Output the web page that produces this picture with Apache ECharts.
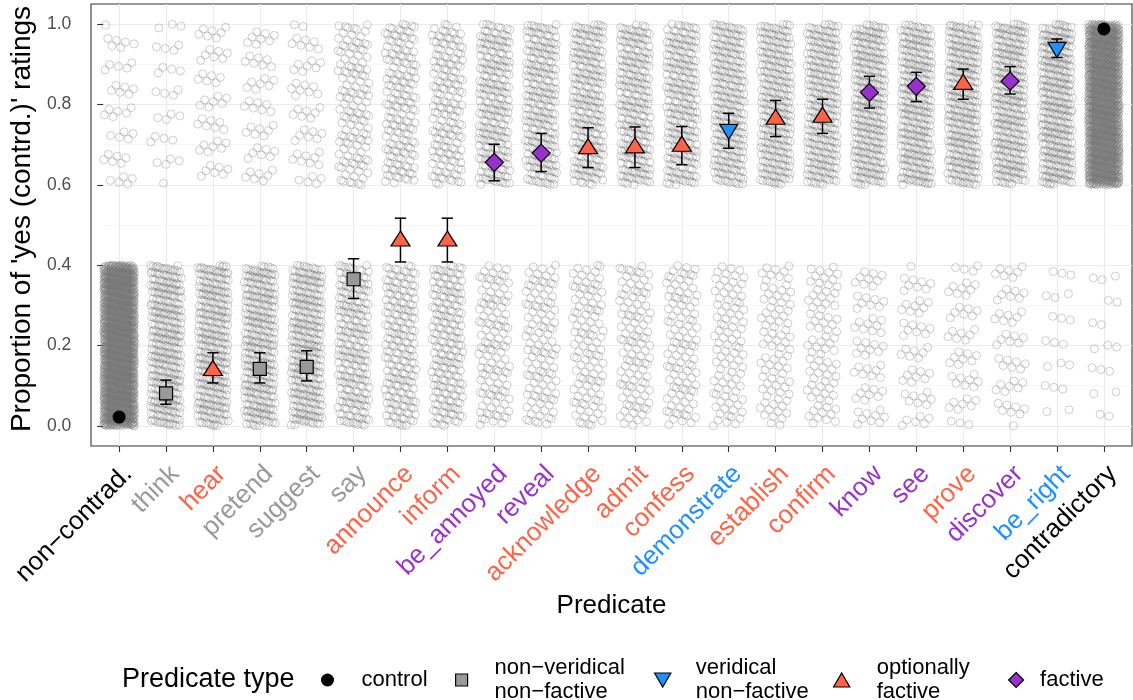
<!DOCTYPE html>
<html>
<head>
<meta charset="utf-8">
<script src="https://cdn.jsdelivr.net/npm/echarts@6/dist/echarts.min.js"></script>
<style>
html, body { margin: 0; padding: 0; background: #ffffff; }
#chart { width: 1133px; height: 700px; }
</style>
</head>
<body>
<div id="chart"></div>
<script>
// ---------------- data ----------------
const predicates = ['non−contrad.', 'think', 'hear', 'pretend', 'suggest', 'say', 'announce', 'inform',
  'be_annoyed', 'reveal', 'acknowledge', 'admit', 'confess', 'demonstrate', 'establish', 'confirm',
  'know', 'see', 'prove', 'discover', 'be_right', 'contradictory'];
const predicateType = ['control', 'nvnf', 'of', 'nvnf', 'nvnf', 'nvnf', 'of', 'of',
  'factive', 'factive', 'of', 'of', 'of', 'vnf', 'of', 'of',
  'factive', 'factive', 'of', 'factive', 'vnf', 'control'];
// mean proportion of 'yes' and its 95% interval
const meanProportion = [0.022, 0.081, 0.138, 0.142, 0.147, 0.365, 0.460, 0.460,
  0.656, 0.679, 0.690, 0.692, 0.696, 0.738, 0.763, 0.768,
  0.830, 0.845, 0.850, 0.858, 0.942, 0.988];
const ciLower = [0.016, 0.054, 0.107, 0.107, 0.112, 0.317, 0.408, 0.408,
  0.610, 0.633, 0.643, 0.643, 0.650, 0.691, 0.720, 0.728,
  0.791, 0.807, 0.813, 0.826, 0.917, 0.984];
const ciUpper = [0.029, 0.114, 0.182, 0.182, 0.187, 0.416, 0.517, 0.517,
  0.701, 0.728, 0.742, 0.744, 0.745, 0.778, 0.810, 0.813,
  0.870, 0.880, 0.888, 0.894, 0.963, 0.992];
// number of individual 'yes' (upper cloud) and 'no' (lower cloud) responses
const yesCount = [40, 28, 48, 50, 51, 128, 161, 161,
  230, 238, 242, 242, 244, 258, 267, 269,
  290, 296, 298, 300, 330, 1483];
const noCount = [1760, 322, 302, 300, 299, 222, 189, 189,
  120, 112, 108, 108, 106, 92, 83, 81,
  60, 54, 52, 50, 20, 17];
const typeOrder = ['control', 'nvnf', 'vnf', 'of', 'factive'];
const typeLabels = ['control', 'non−veridical\nnon−factive', 'veridical\nnon−factive', 'optionally\nfactive', 'factive'];

// ---------------- styles ----------------
const FONT = '"Liberation Sans", Arial, Helvetica, sans-serif';
const typeStyle = {
  control: { symbol: 'circle', size: 13, fill: '#000000', label: '#000000', border: 0, offset: [0, 0], rotate: 0,
             icon: 'circle', iconH: 13 },
  nvnf:    { symbol: 'rect', size: [13, 13], fill: '#999999', label: '#999999', border: 1.2, offset: [0, 0], rotate: 0,
             icon: 'path://M0,0H10V10H0Z', iconH: 12 },
  vnf:     { symbol: 'triangle', size: [18, 15], fill: '#1E90FF', label: '#1E90FF', border: 1.2, offset: [0, 2.5], rotate: 180,
             icon: 'path://M0,0L11,0L5.5,9.5Z', iconH: 14 },
  of:      { symbol: 'triangle', size: [19, 15], fill: '#FF6347', label: '#FF6347', border: 1.2, offset: [0, -2.5], rotate: 0,
             icon: 'path://M5.5,0L11,9.5L0,9.5Z', iconH: 14 },
  factive: { symbol: 'diamond', size: [18, 18], fill: '#9932CC', label: '#9932CC', border: 1.2, offset: [0, 0], rotate: 0,
             icon: 'path://M5,0L10,5L5,10L0,5Z', iconH: 15 }
};
// legend placement: [left, itemWidth]
const legendPlace = { control: [321, 58], nvnf: [455, 56], vnf: [654, 56], of: [833, 60], factive: [1008, 38] };

// ---------------- geometry of the panel ----------------
const PANEL = { left: 91, right: 1, top: 4, bottom: 254 };
const X_MIN = -0.6, X_MAX = predicates.length - 1 + 0.6;
const panelW = 1133 - PANEL.left - PANEL.right;
const pad = 0.6 * panelW / (X_MAX - X_MIN);
const panelH = 700 - PANEL.top - PANEL.bottom;
const pxPerUnitY = panelH / 1.1;

// deterministic jitter layout (geom_jitter look), position only
const A1 = 0.7548776662466927, A2 = 0.5698402909980532;
function jitterPos(n) { return [(0.5 + n * A1) % 1, (0.5 + n * A2) % 1]; }

const cloud = [];
predicates.forEach((p, c) => {
  for (let i = 0; i < noCount[c]; i++) {
    const j = jitterPos(c * 2000 + i + 1);
    cloud.push([c + (j[0] - 0.5) * 0.66, j[1] * 0.4]);
  }
  for (let i = 0; i < yesCount[c]; i++) {
    const j = jitterPos(c * 2000 + 1000 + i + 1);
    cloud.push([c + (j[0] - 0.5) * 0.66, 0.6 + j[1] * 0.4]);
  }
});

const errData = predicates.map((p, c) => [c, ciLower[c], ciUpper[c]]);

const meanSeries = typeOrder.map((t, k) => {
  const st = typeStyle[t];
  const data = [];
  predicates.forEach((p, c) => { if (predicateType[c] === t) data.push([c, meanProportion[c]]); });
  return {
    name: typeLabels[k], type: 'scatter', xAxisIndex: 0, yAxisIndex: 0, z: 6,
    symbol: st.symbol, symbolSize: st.size, symbolOffset: st.offset, symbolRotate: st.rotate,
    itemStyle: { color: st.fill, borderColor: '#000000', borderWidth: st.border, opacity: 1 },
    data: data, silent: true
  };
});

const legends = typeOrder.map((t, k) => {
  const st = typeStyle[t];
  const two = typeLabels[k].indexOf('\n') >= 0;
  const lh = 24;
  const textH = two ? 2 * lh : lh;
  return {
    show: true, selectedMode: false, orient: 'horizontal', padding: 0,
    left: legendPlace[t][0], top: 680 - textH / 2,
    itemWidth: legendPlace[t][1], itemHeight: st.iconH,
    data: [{ name: typeLabels[k], icon: st.icon }],
    itemStyle: { color: st.fill, borderColor: '#000000', borderWidth: st.border },
    textStyle: { fontFamily: FONT, fontSize: 22, color: '#000000', lineHeight: lh }
  };
});

const option = {
  animation: false,
  backgroundColor: '#ffffff',
  title: {
    text: 'Predicate type', left: 122, top: 666, padding: 0,
    textStyle: { fontFamily: FONT, fontSize: 27, fontWeight: 'normal', color: '#000000' }
  },
  legend: legends,
  grid: [
    // data panel with border
    { left: PANEL.left, right: PANEL.right, top: PANEL.top, bottom: PANEL.bottom, show: true,
      borderColor: '#333333', borderWidth: 1.1, backgroundColor: 'transparent', containLabel: false },
    // horizontal gridlines + y labels: 0..1 region
    { left: PANEL.left, right: PANEL.right, top: PANEL.top + 0.05 * pxPerUnitY,
      bottom: PANEL.bottom + 0.05 * pxPerUnitY, containLabel: false },
    // x labels
    { left: PANEL.left + pad + 9, right: PANEL.right + pad - 9, top: PANEL.top, bottom: PANEL.bottom, containLabel: false },
    // x ticks + vertical gridlines
    { left: PANEL.left + pad, right: PANEL.right + pad, top: PANEL.top, bottom: PANEL.bottom, containLabel: false }
  ],
  xAxis: [
    { gridIndex: 0, type: 'value', min: X_MIN, max: X_MAX, show: false },
    { gridIndex: 1, type: 'value', min: 0, max: 1, show: false },
    { gridIndex: 2, type: 'category', data: predicates, boundaryGap: false,
      axisLine: { show: false }, axisTick: { show: false }, splitLine: { show: false },
      axisLabel: { show: true, interval: 0, rotate: 45, margin: 24, fontFamily: FONT, fontSize: 26,
        color: (v, i) => typeStyle[predicateType[i !== undefined ? i : predicates.indexOf(v)]].label } },
    { gridIndex: 3, type: 'category', data: predicates, boundaryGap: false,
      axisLine: { show: false }, axisLabel: { show: false },
      axisTick: { show: true, interval: 0, length: 6, lineStyle: { color: '#333333', width: 1.1 } },
      splitLine: { show: true, interval: 0, lineStyle: { color: '#ebebeb', width: 1.1 } },
      name: 'Predicate', nameLocation: 'middle', nameGap: 147,
      nameTextStyle: { fontFamily: FONT, fontSize: 26, color: '#000000' } }
  ],
  yAxis: [
    { gridIndex: 0, type: 'value', min: -0.05, max: 1.05, show: false },
    { gridIndex: 1, type: 'value', min: 0, max: 1, interval: 0.2,
      axisLine: { show: false },
      axisTick: { show: true, length: 6, lineStyle: { color: '#333333', width: 1.1 } },
      axisLabel: { show: true, margin: 32, fontFamily: FONT, fontSize: 17.5, color: '#4d4d4d',
        formatter: v => Number(v).toFixed(1) },
      splitLine: { show: true, lineStyle: { color: '#ebebeb', width: 1.1 } },
      minorTick: { show: false, splitNumber: 2 },
      minorSplitLine: { show: true, lineStyle: { color: '#f0f0f0', width: 0.6 } },
      name: "Proportion of 'yes (contrd.)' ratings", nameLocation: 'middle', nameGap: 49, nameRotate: 90,
      nameTextStyle: { fontFamily: FONT, fontSize: 28, color: '#000000', padding: [0, 0, 0, 12] } },
    { gridIndex: 2, type: 'value', show: false },
    { gridIndex: 3, type: 'value', show: false }
  ],
  series: [
    { name: 'responses', type: 'scatter', xAxisIndex: 0, yAxisIndex: 0, z: 2, silent: true,
      symbol: 'circle', symbolSize: 8, large: false, progressive: 0, progressiveThreshold: 1e7,
      itemStyle: { color: 'rgba(0,0,0,0)', borderColor: 'rgba(120,120,120,0.45)', borderWidth: 1 },
      data: cloud },
    { name: 'ci', type: 'custom', xAxisIndex: 0, yAxisIndex: 0, z: 5, silent: true,
      encode: { x: 0, y: [1, 2] },
      renderItem: function (params, api) {
        const x = api.value(0);
        const top = api.coord([x, api.value(2)]);
        const bot = api.coord([x, api.value(1)]);
        const hw = api.size([0.12, 0])[0];
        const style = { stroke: '#000000', lineWidth: 1.5, fill: null };
        return { type: 'group', children: [
          { type: 'line', shape: { x1: top[0], y1: top[1], x2: bot[0], y2: bot[1] }, style: style },
          { type: 'line', shape: { x1: top[0] - hw, y1: top[1], x2: top[0] + hw, y2: top[1] }, style: style },
          { type: 'line', shape: { x1: bot[0] - hw, y1: bot[1], x2: bot[0] + hw, y2: bot[1] }, style: style }
        ] };
      },
      data: errData }
  ].concat(meanSeries)
};

const chart = echarts.init(document.getElementById('chart'), null, { renderer: 'canvas' });
chart.setOption(option);
</script>
</body>
</html>
